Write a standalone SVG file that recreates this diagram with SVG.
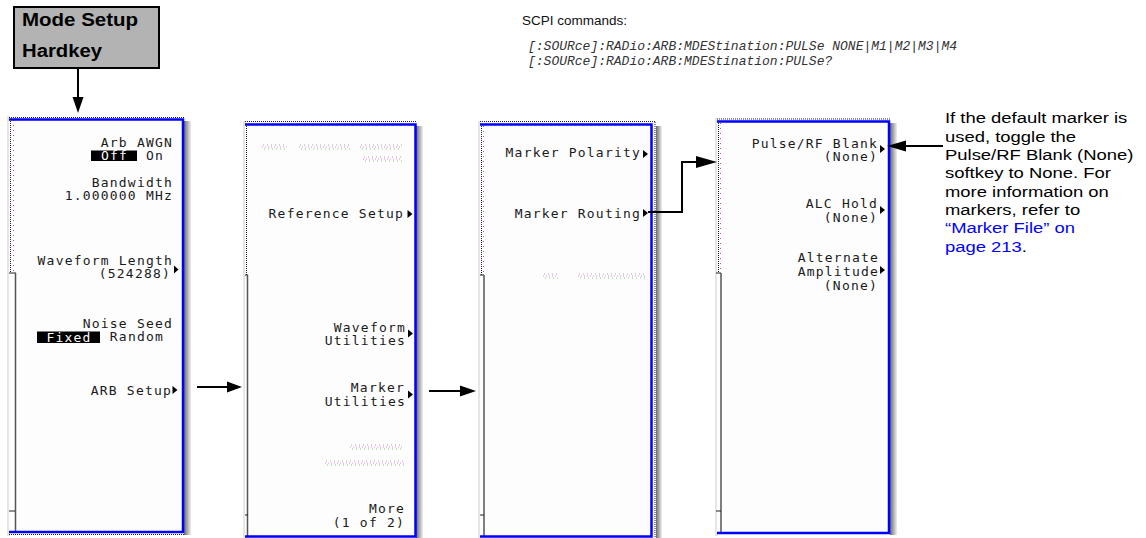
<svg xmlns="http://www.w3.org/2000/svg" width="1146" height="538" viewBox="0 0 1146 538">
<defs>
  <linearGradient id="shadowR" x1="0" x2="1" y1="0" y2="0">
    <stop offset="0" stop-color="#6a6a6a"/>
    <stop offset="1" stop-color="#f0f0f0"/>
  </linearGradient>
</defs>
<style>
  .sk { font-family: "DejaVu Sans Mono", monospace; font-size: 13px; letter-spacing: 1.2px; fill: #1a1a1a; text-anchor: end; }
  .hl { fill: #ffffff; text-anchor: middle; }
  .bg { fill: #fdfdfd; }
  .halo { fill: #e6e6e6; }
  .blue { stroke: #0000ff; stroke-width: 2.5; fill: none; }
  .dot { stroke: #222222; stroke-width: 1; stroke-dasharray: 1 1; fill: none; }
  .dotc { stroke: #d040d0; stroke-width: 1; stroke-dasharray: 1 4; fill: none; }
  .edge { stroke: #555555; stroke-width: 1.5; fill: none; }
  .tick { stroke: #222222; stroke-width: 1; }
  .conn { stroke: #000000; stroke-width: 2; fill: none; }
  .tri { fill: #000000; }
  .note { font-family: "Liberation Sans", Arial, sans-serif; font-size: 15.5px; fill: #000000; }
  .link { fill: #0000ff; }
  .cmd { font-family: "Liberation Mono", "Courier New", monospace; font-style: italic; font-size: 13px; fill: #333333; }
  .gm { stroke: #e060e0; stroke-width: 1.2; stroke-dasharray: 1 2; fill: none; opacity: 0.7; }
  .gg { stroke: #40c040; stroke-width: 1.2; stroke-dasharray: 1 3; fill: none; opacity: 0.7; }
  .gk { stroke: #888888; stroke-width: 1.2; stroke-dasharray: 1 3; fill: none; opacity: 0.7; }
</style>

<g id="hardkey">
  <rect x="14" y="7" width="145" height="61" fill="#b3b3b3" stroke="#000" stroke-width="2"/>
  <text x="22" y="26" font-family="Liberation Sans, Arial, sans-serif" font-weight="bold" font-size="17.5" textLength="116" lengthAdjust="spacingAndGlyphs">Mode Setup</text>
  <text x="22" y="57" font-family="Liberation Sans, Arial, sans-serif" font-weight="bold" font-size="17.5" textLength="80" lengthAdjust="spacingAndGlyphs">Hardkey</text>
</g>

<g id="scpi">
  <text x="522" y="25" font-family="Liberation Sans, Arial, sans-serif" font-size="13.5" fill="#111">SCPI commands:</text>
  <text x="528" y="50" class="cmd">[:SOURce]:RADio:ARB:MDEStination:PULSe NONE|M1|M2|M3|M4</text>
  <text x="528" y="65" class="cmd">[:SOURce]:RADio:ARB:MDEStination:PULSe?</text>
</g>

<g id="panel1">
  <rect x="7" y="116" width="3" height="420" class="halo"/>
  <rect x="184" y="121" width="7" height="414" fill="url(#shadowR)"/>
  <rect x="9" y="119" width="174" height="413" class="bg"/>
  <line x1="9" y1="117.5" x2="184" y2="117.5" class="dot"/>
  <line x1="10.5" y1="119" x2="10.5" y2="273" class="dot"/>
  <line x1="13.5" y1="120" x2="13.5" y2="273" class="dotc"/>
  <line x1="9" y1="273" x2="16" y2="273" class="tick"/>
  <line x1="15.5" y1="273" x2="15.5" y2="531" class="edge"/>
  <line x1="9" y1="511" x2="15" y2="511" class="tick"/>
  <polyline points="9,119.5 183,119.5 183,532 9,532" class="blue"/>
  <line x1="9" y1="534.5" x2="184" y2="534.5" class="dot"/>
  <text x="173" y="147" class="sk">Arb AWGN</text>
  <rect x="91" y="150.5" width="46" height="10.5" fill="#000"/>
  <text x="114.5" y="160" class="sk hl">Off</text>
  <text x="164" y="160" class="sk">On</text>
  <text x="173" y="187" class="sk">Bandwidth</text>
  <text x="173" y="200" class="sk">1.000000 MHz</text>
  <text x="173" y="265" class="sk">Waveform Length</text>
  <text x="171" y="278" class="sk">(524288)</text>
  <polygon points="174,265.5 174,273.5 178.5,269.5" class="tri"/>
  <text x="173" y="328" class="sk">Noise Seed</text>
  <rect x="37" y="331.5" width="63" height="11.5" fill="#000"/>
  <text x="69" y="341.5" class="sk hl">Fixed</text>
  <text x="164" y="341" class="sk">Random</text>
  <text x="172" y="395" class="sk">ARB Setup</text>
  <polygon points="172.5,386 172.5,394 177.5,390" class="tri"/>
</g>

<g id="panel2">
  <rect x="243" y="121" width="3" height="417" class="halo"/>
  <rect x="416" y="126" width="7" height="412" fill="url(#shadowR)"/>
  <rect x="245" y="124" width="171" height="413" class="bg"/>
  <line x1="245" y1="121.5" x2="417" y2="121.5" class="dot"/>
  <line x1="246.5" y1="124" x2="246.5" y2="275" class="dot"/>
  <line x1="245" y1="275" x2="248" y2="275" class="tick"/>
  <line x1="247.5" y1="275" x2="247.5" y2="536" class="edge"/>
  <line x1="245" y1="515" x2="248" y2="515" class="tick"/>
  <polyline points="245,124.5 415.5,124.5 415.5,536.5 245,536.5" class="blue"/>
  <path d="M262 147h25M299 147h51M360 147h42M363 159h39" class="gm"/>
  <path d="M263 145h24M300 145h50M361 145h41M364 157h38" class="gk"/>
  <path d="M264 149h23M301 149h49M362 149h40M365 161h37" class="gg"/>
  <text x="404" y="218" class="sk">Reference Setup</text>
  <polygon points="407.5,210 407.5,218 412.5,214" class="tri"/>
  <text x="406" y="332" class="sk">Waveform</text>
  <text x="406" y="345" class="sk">Utilities</text>
  <polygon points="408,329.5 408,337.5 413,333.5" class="tri"/>
  <text x="405" y="392" class="sk">Marker</text>
  <text x="406" y="406" class="sk">Utilities</text>
  <polygon points="408,390.5 408,398.5 413,394.5" class="tri"/>
  <path d="M350 447h52M325 463h80" class="gm"/>
  <path d="M351 445h50M326 461h78" class="gk"/>
  <path d="M352 449h49M327 465h77" class="gg"/>
  <text x="405" y="513" class="sk">More</text>
  <text x="405" y="527" class="sk">(1 of 2)</text>
</g>

<g id="panel3">
  <rect x="478" y="121" width="3" height="417" class="halo"/>
  <rect x="656" y="126" width="6" height="412" fill="url(#shadowR)"/>
  <rect x="480" y="124" width="172" height="413" class="bg"/>
  <line x1="480" y1="121.5" x2="656" y2="121.5" class="dot"/>
  <line x1="655" y1="122" x2="655" y2="538" class="dot"/>
  <line x1="481.5" y1="124" x2="481.5" y2="275" class="dot"/>
  <line x1="483.5" y1="126" x2="483.5" y2="275" class="dotc"/>
  <line x1="480" y1="275" x2="484" y2="275" class="tick"/>
  <line x1="484" y1="275" x2="484" y2="536" class="edge"/>
  <line x1="480" y1="515" x2="484" y2="515" class="tick"/>
  <polyline points="480,124.5 651.5,124.5 651.5,536.5 480,536.5" class="blue"/>
  <text x="641" y="157" class="sk">Marker Polarity</text>
  <polygon points="643,150 643,158 648,154" class="tri"/>
  <text x="641" y="218" class="sk">Marker Routing</text>
  <polygon points="643,209 643,217 648,213" class="tri"/>
  <path d="M543 276h15M578 276h69" class="gm"/>
  <path d="M544 274h14M579 274h67" class="gk"/>
  <path d="M545 278h13M580 278h66" class="gg"/>
</g>

<g id="panel4">
  <rect x="715" y="118" width="3" height="418" class="halo"/>
  <rect x="890" y="123" width="7" height="412" fill="url(#shadowR)"/>
  <rect x="717" y="121" width="172" height="412" class="bg"/>
  <line x1="717" y1="119" x2="890" y2="119" class="dot"/>
  <line x1="718.5" y1="121" x2="718.5" y2="273" class="dot"/>
  <line x1="720.5" y1="123" x2="720.5" y2="273" class="dotc"/>
  <line x1="716" y1="273" x2="721" y2="273" class="tick"/>
  <line x1="721" y1="273" x2="721" y2="532" class="edge"/>
  <line x1="716" y1="511" x2="721" y2="511" class="tick"/>
  <polyline points="717,121.5 889,121.5 889,533 717,533" class="blue"/>
  <text x="878" y="148" class="sk">Pulse/RF Blank</text>
  <text x="878" y="161" class="sk">(None)</text>
  <polygon points="880,145 880,153 885,149" class="tri"/>
  <text x="878" y="208" class="sk">ALC Hold</text>
  <text x="878" y="222" class="sk">(None)</text>
  <polygon points="880,206 880,214 885,210" class="tri"/>
  <text x="879" y="262" class="sk">Alternate</text>
  <text x="879" y="276" class="sk">Amplitude</text>
  <text x="878" y="290" class="sk">(None)</text>
  <polygon points="880,266 880,274 885,270" class="tri"/>
</g>

<g id="note">
  <g transform="translate(945 0) scale(1.19 1)">
    <text x="0" y="123.5" class="note">If the default marker is</text>
    <text x="0" y="141.8" class="note">used, toggle the</text>
    <text x="0" y="160.1" class="note">Pulse/RF Blank (None)</text>
    <text x="0" y="178.4" class="note">softkey to None. For</text>
    <text x="0" y="196.7" class="note">more information on</text>
    <text x="0" y="215" class="note">markers, refer to</text>
    <text x="0" y="233.3" class="note link">“Marker File” on</text>
    <text x="0" y="251.6" class="note"><tspan class="link">page 213</tspan>.</text>
  </g>
</g>

<g id="connectors">
  <line x1="78" y1="69" x2="78" y2="99" class="conn"/>
  <polygon points="72.5,97 83.5,97 78,113" class="tri"/>
  <line x1="197" y1="387" x2="229" y2="387" class="conn"/>
  <polygon points="227,381.5 227,392.5 242,387" class="tri"/>
  <line x1="429" y1="391" x2="462" y2="391" class="conn"/>
  <polygon points="460,385.5 460,396.5 476,391" class="tri"/>
  <polyline points="648,212 682,212 682,162 699,162" class="conn"/>
  <polygon points="696,156 696,168 717,162" class="tri"/>
  <line x1="943" y1="146" x2="904" y2="146" class="conn"/>
  <polygon points="906,140.5 906,151.5 887,146" class="tri"/>
</g>
</svg>
